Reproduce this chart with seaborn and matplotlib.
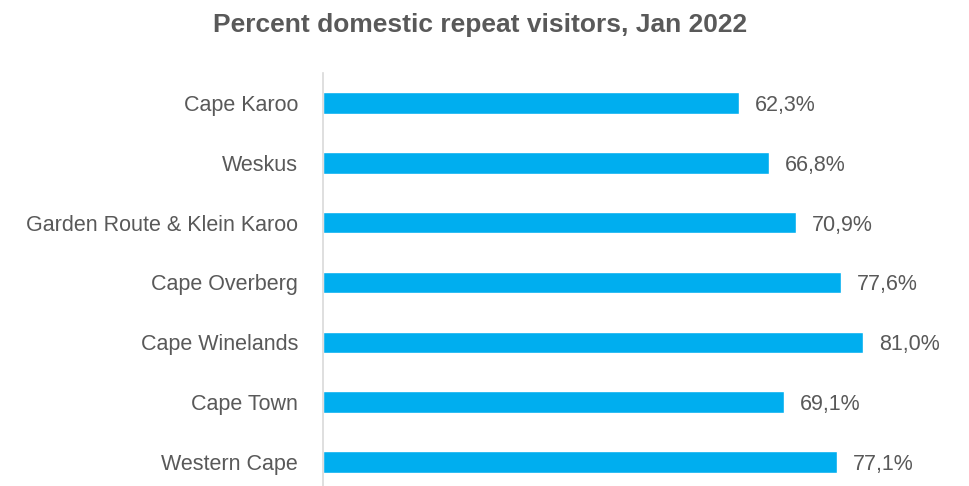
import matplotlib
matplotlib.use("Agg")
import matplotlib.pyplot as plt
import seaborn as sns
import pandas as pd

regions = ["Cape Karoo", "Weskus", "Garden Route & Klein Karoo", "Cape Overberg",
           "Cape Winelands", "Cape Town", "Western Cape"]
repeat_pct = [62.3, 66.8, 70.9, 77.6, 81.0, 69.1, 77.1]
title = "Percent domestic repeat visitors, Jan 2022"

df = pd.DataFrame({"region": regions, "pct": repeat_pct})

sns.set_theme(style="white")
plt.rcParams["font.family"] = ["Liberation Sans", "DejaVu Sans"]

text_color = "#595959"
bar_color = "#00AEEF"

W, H = 969, 486
fig = plt.figure(figsize=(W / 100, H / 100), dpi=100)
left_px, top_px = 323, 73
ax = fig.add_axes([left_px / W, 0, (W - left_px) / W, (H - top_px) / H])

sns.barplot(data=df, x="pct", y="region", color=bar_color, width=0.36,
            saturation=1, ax=ax, orient="h")

px_per_unit = 6.67
ax.set_xlim(0, (W - left_px) / px_per_unit)
ax.set_ylim(6.4, -0.5)

for i, v in enumerate(repeat_pct):
    ax.text(v + 2.4, i, f"{v:.1f}%".replace(".", ","), va="center_baseline",
            ha="left", fontsize=15.5, color=text_color)

ax.set_xlabel("")
ax.set_ylabel("")
ax.set_xticks([])
ax.tick_params(axis="y", length=0, pad=18, labelsize=15.5, labelcolor=text_color)
for s in ["top", "right", "bottom"]:
    ax.spines[s].set_visible(False)
ax.spines["left"].set_color("#D9D9D9")
ax.spines["left"].set_linewidth(1.2)

fig.text(480 / W, 1 - 25 / H, title, ha="center", va="center", fontsize=19,
         fontweight="bold", color=text_color)

fig.savefig("out.png", dpi=100)
